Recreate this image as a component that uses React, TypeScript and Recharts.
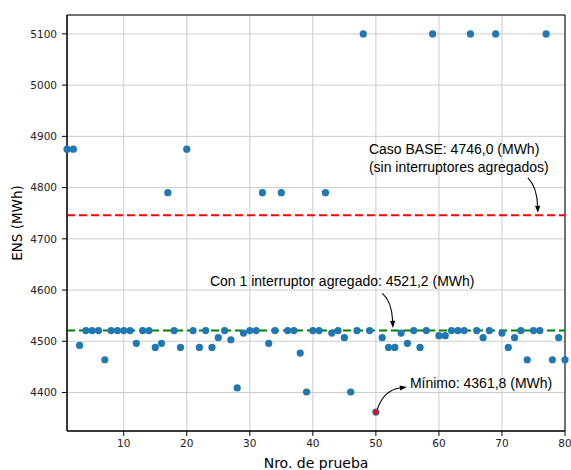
import React from 'react';
import {
  ScatterChart,
  Scatter,
  XAxis,
  YAxis,
  CartesianGrid,
  ReferenceLine,
  ReferenceArea,
  ReferenceDot,
} from 'recharts';

// Nro. de prueba 1..80
const trialNumbers: number[] = Array.from({ length: 80 }, (_, i) => i + 1);

// ENS (MWh) per trial
const ensValues: number[] = [
  4875, 4875, 4492, 4521, 4521, 4521, 4464, 4521, 4521, 4521,
  4521, 4496, 4521, 4521, 4488, 4496, 4790, 4521, 4488, 4875,
  4521, 4488, 4521, 4488, 4507, 4521, 4503, 4409, 4516, 4521,
  4521, 4790, 4496, 4521, 4790, 4521, 4521, 4477, 4401, 4521,
  4521, 4790, 4516, 4521, 4507, 4401, 4521, 5100, 4521, 4361.8,
  4507, 4488, 4488, 4516, 4496, 4521, 4488, 4521, 5100, 4511,
  4511, 4521, 4521, 4521, 5100, 4521, 4507, 4521, 5100, 4516,
  4488, 4507, 4521, 4464, 4521, 4521, 5100, 4464, 4507, 4464,
];

const xTicks: number[] = [10, 20, 30, 40, 50, 60, 70, 80];
const yTicks: number[] = [4400, 4500, 4600, 4700, 4800, 4900, 5000, 5100];
const xDomain: [number, number] = [1, 80];
const yDomain: [number, number] = [4324.9, 5136.9];

const baseCase = 4746.0;
const oneSwitch = 4521.2;
const minimum = { x: 50, y: 4361.8 };

const baseArrowX = 75.7;
const oneArrowX = 52.7;

const baseText = ['Caso BASE: 4746,0 (MWh)', '(sin interruptores agregados)'];
const oneText = 'Con 1 interruptor agregado: 4521,2 (MWh)';
const minText = 'Mínimo: 4361,8 (MWh)';

const data = trialNumbers.map((x, i) => ({ x, y: ensValues[i] }));
const minData = [minimum];

const annFont = "'Liberation Sans', Arial, sans-serif";
const tickFont = "'DejaVu Sans', sans-serif";

function arrowGroup(
  ox: number,
  oy: number,
  s: [number, number],
  c: [number, number],
  e: [number, number]
) {
  const sx = ox + s[0], sy = oy + s[1];
  const cx = ox + c[0], cy = oy + c[1];
  const ex = ox + e[0], ey = oy + e[1];
  const ang = Math.atan2(ey - cy, ex - cx);
  const L = 7, W = 2.6;
  const bx = ex - L * Math.cos(ang), by = ey - L * Math.sin(ang);
  const px = -Math.sin(ang), py = Math.cos(ang);
  const pts = `${ex},${ey} ${bx + W * px},${by + W * py} ${bx - W * px},${by - W * py}`;
  return (
    <g>
      <path d={`M${sx},${sy} Q${cx},${cy} ${bx},${by}`} fill="none" stroke="#000" strokeWidth={1.1} />
      <polygon points={pts} fill="#000" />
    </g>
  );
}

const BaseAnn = (p: any) => {
  const { cx, cy } = p;
  return (
    <g>
      {arrowGroup(cx, cy, [-10, -37.5], [-1, -28.5], [0, -2.5])}
      <text x={cx - 169} y={cy - 61.5} fontFamily={annFont} fontSize={14} fill="#000">{baseText[0]}</text>
      <text x={cx - 169} y={cy - 43.5} fontFamily={annFont} fontSize={14} fill="#000">{baseText[1]}</text>
    </g>
  );
};

const OneAnn = (p: any) => {
  const { cx, cy } = p;
  return (
    <g>
      {arrowGroup(cx, cy, [-10.5, -37], [-1, -28.5], [0, -2.5])}
      <text x={cx - 183} y={cy - 44.4} fontFamily={annFont} fontSize={14} fill="#000">{oneText}</text>
    </g>
  );
};

const MinAnn = (p: any) => {
  const { cx, cy } = p;
  return (
    <g>
      {arrowGroup(cx, cy, [1.5, -3], [8, -22], [31, -25])}
      <text x={cx + 34} y={cy - 24} fontFamily={annFont} fontSize={14} fill="#000">{minText}</text>
    </g>
  );
};

const YLabel = (props: any) => {
  const vb = props.viewBox || { x: 17, y: 15, width: 50, height: 416 };
  const x = vb.x;
  const y = vb.y + vb.height / 2;
  return (
    <text
      x={x}
      y={y}
      transform={`rotate(-90 ${x} ${y})`}
      textAnchor="middle"
      dominantBaseline="central"
      fontFamily={tickFont}
      fontSize={13.5}
      fill="#000"
    >
      ENS (MWh)
    </text>
  );
};

const XLabel = (props: any) => {
  const vb = props.viewBox || { x: 67, y: 431, width: 498, height: 30 };
  return (
    <text
      x={vb.x + vb.width / 2}
      y={vb.y + 37}
      textAnchor="middle"
      fontFamily={tickFont}
      fontSize={14}
      fill="#000"
    >
      Nro. de prueba
    </text>
  );
};

export default function App() {
  return (
    <div style={{ position: 'absolute', left: 0, top: 0, background: '#fff' }}>
      <ScatterChart
        width={571}
        height={470}
        margin={{ top: 15, right: 6, bottom: 9, left: 17 }}
      >
        <CartesianGrid stroke="#cccccc" strokeWidth={1} />
        <XAxis
          type="number"
          dataKey="x"
          domain={xDomain}
          ticks={xTicks}
          height={30}
          tickSize={5}
          tickMargin={4}
          axisLine={{ stroke: '#000' }}
          tickLine={{ stroke: '#000' }}
          tick={{ fill: '#222', fontSize: 10.5, fontFamily: tickFont }}
          label={<XLabel />}
        />
        <YAxis
          type="number"
          dataKey="y"
          domain={yDomain}
          ticks={yTicks}
          width={50}
          tickSize={5}
          tickMargin={5}
          axisLine={{ stroke: '#000' }}
          tickLine={{ stroke: '#000' }}
          tick={{ fill: '#222', fontSize: 10.5, fontFamily: tickFont }}
          label={<YLabel />}
        />
        <ReferenceLine y={baseCase} stroke="#ff0000" strokeWidth={2} strokeDasharray="8 4" />
        <ReferenceLine y={oneSwitch} stroke="#008000" strokeWidth={2} strokeDasharray="8 4" />
        <Scatter
          data={data}
          isAnimationActive={false}
          shape={(p: any) => <circle cx={p.cx} cy={p.cy} r={3.6} fill="#1f77b4" />}
        />
        <Scatter
          data={minData}
          isAnimationActive={false}
          shape={(p: any) => <circle cx={p.cx} cy={p.cy} r={2.6} fill="#ff0000" />}
        />
        <ReferenceArea
          x1={xDomain[0]}
          x2={xDomain[1]}
          y1={yDomain[0]}
          y2={yDomain[1]}
          fill="none"
          fillOpacity={0}
          stroke="#000"
          strokeWidth={1}
          ifOverflow="visible"
        />
        <ReferenceDot x={baseArrowX} y={baseCase} ifOverflow="visible" shape={BaseAnn} />
        <ReferenceDot x={oneArrowX} y={oneSwitch} ifOverflow="visible" shape={OneAnn} />
        <ReferenceDot x={minimum.x} y={minimum.y} ifOverflow="visible" shape={MinAnn} />
      </ScatterChart>
    </div>
  );
}
